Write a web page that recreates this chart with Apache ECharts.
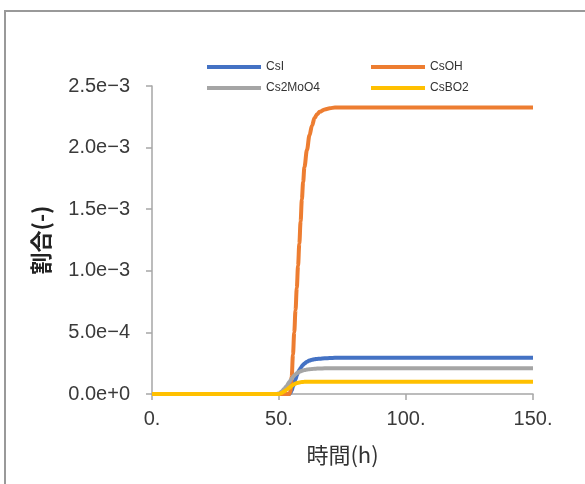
<!DOCTYPE html>
<html>
<head>
<meta charset="utf-8">
<script src="https://cdn.jsdelivr.net/npm/echarts@6/dist/echarts.min.js"></script>
<style>
  html, body { margin: 0; padding: 0; background: #fff; }
  #chart { width: 585px; height: 484px; }
</style>
</head>
<body>
<div id="chart"></div>
<script>
// Time axis (h)
const hours = [0, 48, 49, 50, 51, 52, 53, 54,
  54.5, 55, 55.5, 56, 56.5, 57, 57.5, 58, 58.5, 59, 59.5, 60,
  61, 62, 63, 64, 65, 66,
  68, 70, 72, 75, 80, 100, 125, 150];

// Fractions of each species (-)
const csI = [0, 0, 0, 0, 0, 0, 0, 0,
  0.01e-3, 0.03e-3, 0.06e-3, 0.09e-3, 0.12e-3, 0.15e-3, 0.175e-3, 0.195e-3, 0.21e-3, 0.225e-3, 0.237e-3, 0.247e-3,
  0.262e-3, 0.272e-3, 0.278e-3, 0.282e-3, 0.285e-3, 0.287e-3,
  0.29e-3, 0.292e-3, 0.294e-3, 0.295e-3, 0.295e-3, 0.295e-3, 0.295e-3, 0.295e-3];

const csOH = [0, 0, 0, 0, 0, 0, 0, 0,
  0.02e-3, 0.14e-3, 0.32e-3, 0.5e-3, 0.68e-3, 0.86e-3, 1.04e-3, 1.22e-3, 1.4e-3, 1.58e-3, 1.72e-3, 1.84e-3,
  1.98e-3, 2.1e-3, 2.18e-3, 2.24e-3, 2.27e-3, 2.29e-3,
  2.31e-3, 2.32e-3, 2.325e-3, 2.325e-3, 2.325e-3, 2.325e-3, 2.325e-3, 2.325e-3];

const cs2MoO4 = [0, 0, 0, 0.005e-3, 0.02e-3, 0.04e-3, 0.065e-3, 0.095e-3,
  0.11e-3, 0.125e-3, 0.138e-3, 0.15e-3, 0.16e-3, 0.168e-3, 0.175e-3, 0.18e-3, 0.184e-3, 0.188e-3, 0.191e-3, 0.194e-3,
  0.198e-3, 0.201e-3, 0.203e-3, 0.205e-3, 0.206e-3, 0.207e-3,
  0.208e-3, 0.209e-3, 0.21e-3, 0.21e-3, 0.21e-3, 0.21e-3, 0.21e-3, 0.21e-3];

const csBO2 = [0, 0, 0, 0, 0.008e-3, 0.02e-3, 0.035e-3, 0.05e-3,
  0.058e-3, 0.066e-3, 0.073e-3, 0.08e-3, 0.085e-3, 0.089e-3, 0.092e-3, 0.094e-3, 0.096e-3, 0.097e-3, 0.098e-3, 0.099e-3,
  0.1e-3, 0.1e-3, 0.1e-3, 0.1e-3, 0.1e-3, 0.1e-3,
  0.1e-3, 0.1e-3, 0.1e-3, 0.1e-3, 0.1e-3, 0.1e-3, 0.1e-3, 0.1e-3];

const seriesNames = ['CsI', 'CsOH', 'Cs2MoO4', 'CsBO2'];
const seriesColors = ['#4472C4', '#ED7D31', '#A5A5A5', '#FFC000'];
const seriesValues = [csI, csOH, cs2MoO4, csBO2];

const numFont = '"Liberation Sans", Arial, sans-serif';
const jpFont = '"Noto Sans CJK JP", sans-serif';
const labelColor = '#3a3a3a';
const axisGray = '#a6a6a6';

const chart = echarts.init(document.getElementById('chart'), null, { renderer: 'canvas' });

const legendText = { fontFamily: numFont, fontSize: 12, color: '#333', lineHeight: 14 };

chart.setOption({
  animation: false,
  backgroundColor: '#fff',
  graphic: [{
    type: 'rect',
    shape: { x: 5, y: 11, width: 620, height: 520 },
    style: { fill: 'none', stroke: '#999', lineWidth: 2 },
    silent: true,
    z: -1
  }],
  legend: [{
    data: ['CsI', 'Cs2MoO4'],
    orient: 'vertical',
    left: 207, top: 60, padding: 0,
    itemWidth: 54, itemHeight: 4, itemGap: 7,
    icon: 'rect',
    textStyle: legendText
  }, {
    data: ['CsOH', 'CsBO2'],
    orient: 'vertical',
    left: 371, top: 60, padding: 0,
    itemWidth: 54, itemHeight: 4, itemGap: 7,
    icon: 'rect',
    textStyle: legendText
  }],
  grid: { left: 152, right: 52, top: 86, bottom: 90, containLabel: false },
  xAxis: {
    type: 'value',
    min: 0, max: 150, interval: 50,
    name: '時間(h)',
    nameLocation: 'middle',
    nameGap: 50,
    nameTextStyle: { fontFamily: jpFont, fontSize: 22, color: '#333' },
    axisLine: { show: true, lineStyle: { color: axisGray, width: 1.5 } },
    axisTick: { show: true, inside: false, length: 6, lineStyle: { color: axisGray, width: 1.5 } },
    axisLabel: {
      margin: 15,
      fontFamily: numFont, fontSize: 20, color: labelColor,
      formatter: v => v + '.'
    },
    splitLine: { show: false }
  },
  yAxis: {
    type: 'value',
    min: 0, max: 0.0025, interval: 0.0005,
    name: '割合(-)',
    nameLocation: 'middle',
    nameGap: 100,
    nameTextStyle: { fontFamily: jpFont, fontSize: 22, fontWeight: 'bold', color: '#222' },
    axisLine: { show: true, lineStyle: { color: axisGray, width: 1.5 } },
    axisTick: { show: true, inside: false, length: 6, lineStyle: { color: axisGray, width: 1.5 } },
    axisLabel: {
      margin: 22,
      fontFamily: numFont, fontSize: 20, color: labelColor,
      formatter: v => v.toExponential(1).replace('-', '\u2212')
    },
    splitLine: { show: false }
  },
  series: seriesNames.map((name, i) => ({
    name: name,
    type: 'line',
    data: hours.map((t, k) => [t, seriesValues[i][k]]),
    showSymbol: false,
    symbol: 'none',
    smooth: 0.35,
    smoothMonotone: 'x',
    lineStyle: { color: seriesColors[i], width: 4 },
    itemStyle: { color: seriesColors[i] },
    z: 2 + i
  }))
});
</script>
</body>
</html>
